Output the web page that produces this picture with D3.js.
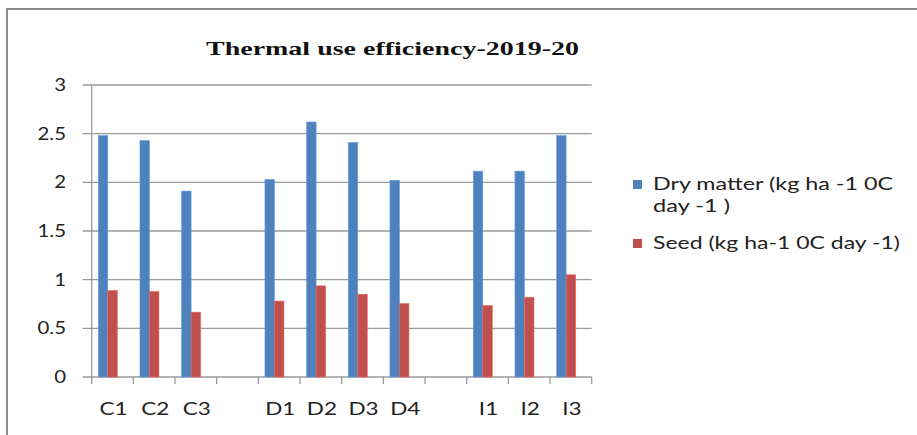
<!DOCTYPE html>
<html>
<head>
<meta charset="utf-8">
<script src="https://cdn.jsdelivr.net/npm/d3@7"></script>
<style>
  body { margin: 0; background: #fff; }
  svg { display: block; }
</style>
</head>
<body>
<svg width="917" height="435"></svg>
<script>
const categories = ["C1", "C2", "C3", "", "D1", "D2", "D3", "D4", " ", "I1", "I2", "I3"];
const dryMatter = [2.48, 2.43, 1.91, null, 2.03, 2.62, 2.41, 2.02, null, 2.115, 2.115, 2.48];
const seed = [0.888, 0.878, 0.666, null, 0.78, 0.936, 0.85, 0.754, null, 0.734, 0.82, 1.05];
const seriesNames = ["Dry matter (kg ha -1 0C day -1 )", "Seed (kg ha-1 0C day -1)"];
const yTicks = [0, 0.5, 1, 1.5, 2, 2.5, 3];

const svg = d3.select("svg");
const colors = ["#4f81bd", "#c0504d"];
const labelFont = "Lato, 'Open Sans', sans-serif";

// chart frame
svg.append("path")
  .attr("d", "M7,435 V9 H917")
  .attr("fill", "none")
  .attr("stroke", "#8c8c8c")
  .attr("stroke-width", 2);

const plotLeft = 91.7, plotRight = 591.7, plotTop = 85, plotBottom = 377;

const x0 = d3.scaleBand()
  .domain(d3.range(categories.length))
  .range([plotLeft, plotRight])
  .paddingInner(0.316)
  .paddingOuter(0.158);

// three sub-slots, third one is empty (as in the original)
const x1 = d3.scaleBand()
  .domain([0, 1, 2])
  .range([0, x0.bandwidth()]);

const y = d3.scaleLinear().domain([0, 3]).range([plotBottom, plotTop]);

// gridlines
svg.append("g")
  .selectAll("line")
  .data(yTicks)
  .join("line")
  .attr("x1", plotLeft - 9)
  .attr("x2", plotRight)
  .attr("y1", d => y(d))
  .attr("y2", d => y(d))
  .attr("stroke", "#9a9a9a")
  .attr("stroke-width", 1.3);

// y axis line
svg.append("line")
  .attr("x1", plotLeft).attr("x2", plotLeft)
  .attr("y1", plotTop).attr("y2", plotBottom)
  .attr("stroke", "#9a9a9a")
  .attr("stroke-width", 1.3);

// x ticks
const step = x0.step();
svg.append("g")
  .selectAll("line")
  .data(d3.range(categories.length + 1))
  .join("line")
  .attr("x1", d => plotLeft + d * step)
  .attr("x2", d => plotLeft + d * step)
  .attr("y1", plotBottom)
  .attr("y2", plotBottom + 7)
  .attr("stroke", "#9a9a9a")
  .attr("stroke-width", 1.3);

// y labels (stretched a little, like the source image)
svg.append("g")
  .selectAll("text")
  .data(yTicks)
  .join("text")
  .attr("transform", d => `translate(66,${y(d) + 6}) scale(1.2,1)`)
  .attr("text-anchor", "end")
  .attr("font-family", labelFont)
  .attr("font-size", 17)
  .attr("fill", "#222")
  .text(d => d);

// x labels
svg.append("g")
  .selectAll("text")
  .data(categories)
  .join("text")
  .attr("transform", (d, i) => `translate(${x0(i) + x0.bandwidth() / 2 + 1},415) scale(1.25,1)`)
  .attr("text-anchor", "middle")
  .attr("font-family", labelFont)
  .attr("font-size", 18)
  .attr("fill", "#222")
  .text(d => d.trim());

// bars
[dryMatter, seed].forEach((values, s) => {
  svg.append("g")
    .selectAll("rect")
    .data(values.map((v, i) => ({ v, i })).filter(d => d.v != null))
    .join("rect")
    .attr("x", d => x0(d.i) + x1(s))
    .attr("width", x1.bandwidth())
    .attr("y", d => y(d.v))
    .attr("height", d => y(0) - y(d.v))
    .attr("fill", colors[s])
    .attr("stroke", d3.color(colors[s]).brighter(0.6))
    .attr("stroke-width", 0.6);
});

// title
svg.append("text")
  .attr("x", 206)
  .attr("y", 55)
  .attr("font-family", "'Liberation Serif', 'Times New Roman', serif")
  .attr("font-weight", "bold")
  .attr("font-size", 19)
  .attr("textLength", 373)
  .attr("lengthAdjust", "spacingAndGlyphs")
  .attr("fill", "#111")
  .text("Thermal use efficiency-2019-20");

// legend
const legendLines = [
  { s: 0, lines: ["Dry matter (kg ha -1 0C", "day -1 )"], lens: [240, 77], y: 190 },
  { s: 1, lines: ["Seed (kg ha-1 0C day -1)"], lens: [247], y: 249 }
];
legendLines.forEach(item => {
  svg.append("rect")
    .attr("x", 633)
    .attr("y", item.y - 10)
    .attr("width", 9)
    .attr("height", 9)
    .attr("fill", colors[item.s]);
  item.lines.forEach((t, k) => {
    svg.append("text")
      .attr("x", 653)
      .attr("y", item.y + k * 22)
      .attr("font-family", labelFont)
      .attr("font-size", 17.5)
      .attr("textLength", item.lens[k])
      .attr("lengthAdjust", "spacingAndGlyphs")
      .attr("fill", "#222")
      .text(t);
  });
});
</script>
</body>
</html>
